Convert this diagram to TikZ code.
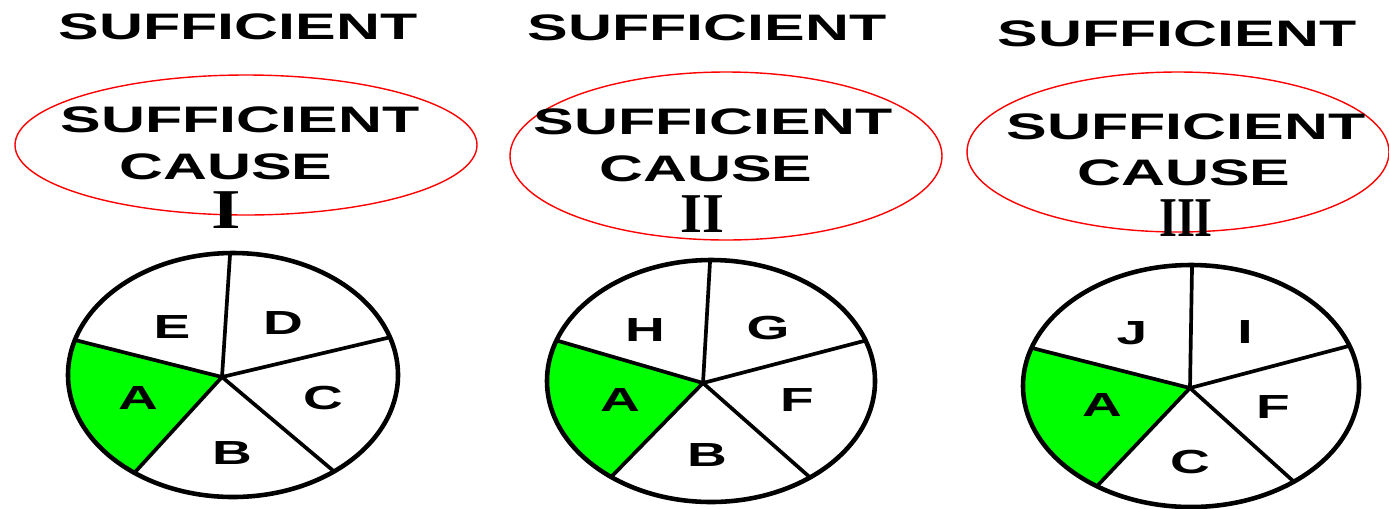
\documentclass[tikz,border=0pt]{standalone}
\usepackage{fontspec}
\setsansfont{Liberation Sans}
\newfontfamily\numfam{Liberation Serif}
\usetikzlibrary{calc}

\definecolor{causegreen}{RGB}{0,255,0}
\newcommand{\headfont}{\sffamily\bfseries\fontsize{21}{24}\selectfont}
\newcommand{\piefont}{\sffamily\bfseries\fontsize{19}{21}\selectfont}
\newcommand{\numfont}{\numfam\bfseries\fontsize{32}{34}\selectfont}
\newcommand{\wtext}[1]{\scalebox{1.65}[1]{#1}}

\tikzset{
  ring/.style={draw=red, line width=0.8pt},
  pie/.style={draw=black, line width=2.6pt},
  spoke/.style={draw=black, line width=2.1pt},
  headtext/.style={font=\headfont, inner sep=0pt},
  slicetext/.style={font=\piefont, inner sep=0pt},
  numtext/.style={font=\numfont, inner sep=0pt},
}

\begin{document}
\begin{tikzpicture}[x=0.02cm, y=-0.02cm]
  % 1 unit = 1 pixel of the 1389 x 508 frame, y pointing down
  \useasboundingbox (0,0) rectangle (1389,508);

  % ---------------- sufficient cause I ----------------
  \node[headtext] (top1) at (238,27) {\wtext{SUFFICIENT}};
  \draw[ring] (246,145) ellipse [x radius=231, y radius=70];
  \node[headtext] (suf1) at (240,120) {\wtext{SUFFICIENT}};
  \node[headtext] (cause1) at (226,167) {\wtext{CAUSE}};
  \node[numtext] (num1) at (226,210) {\scalebox{1.35}[1]{I}};
  % pie: hub and rim points of the five spokes
  \coordinate (hub1) at (222,377);
  \coordinate (s1a) at (230,255);
  \coordinate (s1b) at (387,338);
  \coordinate (s1c) at (330,468);
  \coordinate (s1d) at (137,470);
  \coordinate (s1e) at (75,340);
  \begin{scope}
    \clip (233,375) ellipse [x radius=165, y radius=122];
    \fill[causegreen] (hub1) -- ($(hub1)!2!(s1e)$) -- ($(hub1)!2!(s1d)$) -- cycle;
    \draw[spoke] (hub1) -- ($(hub1)!1.2!(s1a)$) (hub1) -- ($(hub1)!1.2!(s1b)$)
      (hub1) -- ($(hub1)!1.2!(s1c)$) (hub1) -- ($(hub1)!1.2!(s1d)$)
      (hub1) -- ($(hub1)!1.2!(s1e)$);
  \end{scope}
  \draw[pie] (233,375) ellipse [x radius=165, y radius=122];
  \node[slicetext] (p1A) at (138,398) {\wtext{A}};
  \node[slicetext] (p1B) at (232,453) {\wtext{B}};
  \node[slicetext] (p1C) at (323,398) {\wtext{C}};
  \node[slicetext] (p1D) at (283,323) {\wtext{D}};
  \node[slicetext] (p1E) at (172,327) {\wtext{E}};

  % ---------------- sufficient cause II ----------------
  \node[headtext] (top2) at (707,28) {\wtext{SUFFICIENT}};
  \draw[ring] (726,156) ellipse [x radius=216, y radius=84];
  \node[headtext] (suf2) at (713,122) {\wtext{SUFFICIENT}};
  \node[headtext] (cause2) at (706,169) {\wtext{CAUSE}};
  \node[numtext] (num2) at (702,214) {II};
  \coordinate (hub2) at (703,383);
  \coordinate (s2a) at (710,262);
  \coordinate (s2b) at (860,342);
  \coordinate (s2c) at (805,473);
  \coordinate (s2d) at (615,473);
  \coordinate (s2e) at (555,340);
  \begin{scope}
    \clip (711,381) ellipse [x radius=164, y radius=121];
    \fill[causegreen] (hub2) -- ($(hub2)!2!(s2e)$) -- ($(hub2)!2!(s2d)$) -- cycle;
    \draw[spoke] (hub2) -- ($(hub2)!1.2!(s2a)$) (hub2) -- ($(hub2)!1.2!(s2b)$)
      (hub2) -- ($(hub2)!1.2!(s2c)$) (hub2) -- ($(hub2)!1.2!(s2d)$)
      (hub2) -- ($(hub2)!1.2!(s2e)$);
  \end{scope}
  \draw[pie] (711,381) ellipse [x radius=164, y radius=121];
  \node[slicetext] (p2A) at (620,400) {\wtext{A}};
  \node[slicetext] (p2B) at (707,455) {\wtext{B}};
  \node[slicetext] (p2F) at (797,400) {\wtext{F}};
  \node[slicetext] (p2G) at (768,328) {\wtext{G}};
  \node[slicetext] (p2H) at (645,330) {\wtext{H}};

  % ---------------- sufficient cause III ----------------
  \node[headtext] (top3) at (1177,34) {\wtext{SUFFICIENT}};
  \draw[ring] (1178,152) ellipse [x radius=211, y radius=80];
  \node[headtext] (suf3) at (1186,127) {\wtext{SUFFICIENT}};
  \node[headtext] (cause3) at (1184,173) {\wtext{CAUSE}};
  \node[numtext] (num3) at (1186,218) {\scalebox{0.82}[1]{III}};
  \coordinate (hub3) at (1190,388);
  \coordinate (s3a) at (1192,268);
  \coordinate (s3b) at (1345,347);
  \coordinate (s3c) at (1292,480);
  \coordinate (s3d) at (1100,483);
  \coordinate (s3e) at (1032,348);
  \begin{scope}
    \clip (1191,386) ellipse [x radius=168, y radius=121];
    \fill[causegreen] (hub3) -- ($(hub3)!2!(s3e)$) -- ($(hub3)!2!(s3d)$) -- cycle;
    \draw[spoke] (hub3) -- ($(hub3)!1.2!(s3a)$) (hub3) -- ($(hub3)!1.2!(s3b)$)
      (hub3) -- ($(hub3)!1.2!(s3c)$) (hub3) -- ($(hub3)!1.2!(s3d)$)
      (hub3) -- ($(hub3)!1.2!(s3e)$);
  \end{scope}
  \draw[pie] (1191,386) ellipse [x radius=168, y radius=121];
  \node[slicetext] (p3A) at (1102,405) {\wtext{A}};
  \node[slicetext] (p3C) at (1190,462) {\wtext{C}};
  \node[slicetext] (p3F) at (1273,407) {\wtext{F}};
  \node[slicetext] (p3I) at (1245,332) {\wtext{I}};
  \node[slicetext] (p3J) at (1132,333) {\wtext{J}};
\end{tikzpicture}
\end{document}
